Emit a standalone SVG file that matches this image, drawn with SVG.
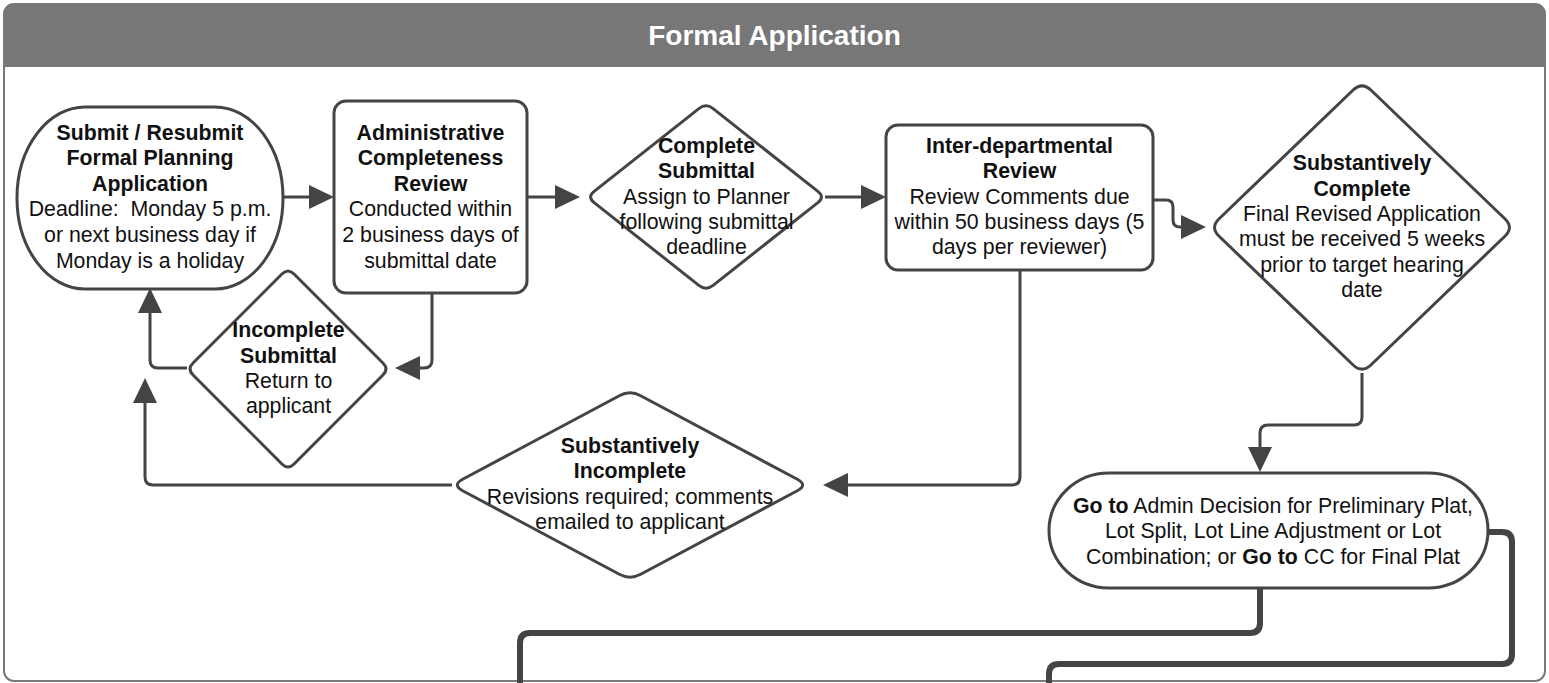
<svg xmlns="http://www.w3.org/2000/svg" width="1549" height="683" viewBox="0 0 1549 683">
<style>
  text { font-family: "Liberation Sans", Arial, sans-serif; font-size: 21.3px; fill: #111; text-anchor: middle; }
  .b { font-weight: bold; }
  .title { font-size: 28px; font-weight: bold; fill: #ffffff; }
  .node { fill: #ffffff; stroke: #444444; stroke-width: 3; }
  .conn { fill: none; stroke: #444444; stroke-width: 3; stroke-linejoin: round; }
  .thick { fill: none; stroke: #444444; stroke-width: 6; stroke-linejoin: round; }
</style>
<defs>
  <marker id="arr" viewBox="0 0 25 24" markerWidth="25" markerHeight="24" refX="0" refY="12" orient="auto" markerUnits="userSpaceOnUse">
    <path d="M0,0 L25,12 L0,24 Z" fill="#444444"/>
  </marker>
</defs>

<g id="container">
  <rect x="4" y="4" width="1541" height="677" rx="10" ry="10" fill="#ffffff" stroke="#7a7a7a" stroke-width="2"/>
  <path d="M4 67 V14 Q4 4 14 4 H1535 Q1545 4 1545 14 V67 Z" fill="#777777"/>
  <text class="title" x="774.5" y="45">Formal Application</text>
</g>

<g id="connectors">
  <path class="conn" d="M283 197 H309" marker-end="url(#arr)"/>
  <path class="conn" d="M527 197 H555" marker-end="url(#arr)"/>
  <path class="conn" d="M825 197 H861" marker-end="url(#arr)"/>
  <path class="conn" d="M1153 200 H1166 Q1173 200 1173 207 V220 Q1173 227 1180 227 H1181" marker-end="url(#arr)"/>
  <path class="conn" d="M432 293 V360 Q432 368 424 368 H420" marker-end="url(#arr)"/>
  <path class="conn" d="M187 368 H158 Q150 368 150 360 V313" marker-end="url(#arr)"/>
  <path class="conn" d="M1020 270 V477 Q1020 485 1012 485 H848" marker-end="url(#arr)"/>
  <path class="conn" d="M452 485 H153 Q145 485 145 477 V403" marker-end="url(#arr)"/>
  <path class="conn" d="M1362 373 V417 Q1362 425 1354 425 H1268 Q1260 425 1260 433 V447" marker-end="url(#arr)"/>
  <path class="thick" d="M1260 588 V623 Q1260 633 1250 633 H530 Q520 633 520 643 V690"/>
  <path class="thick" d="M1488 532 H1502 Q1512 532 1512 542 V654 Q1512 664 1502 664 H1059 Q1049 664 1049 674 V690"/>
</g>

<g id="submit">
  <rect class="node" x="17" y="107" width="266" height="182" rx="68" ry="91"/>
  <text class="b" x="150" y="139.5">Submit / Resubmit</text>
  <text class="b" x="150" y="165.1">Formal Planning</text>
  <text class="b" x="150" y="190.7">Application</text>
  <text x="150" y="216.3" xml:space="preserve">Deadline:  Monday 5 p.m.</text>
  <text x="150" y="241.9">or next business day if</text>
  <text x="150" y="267.5">Monday is a holiday</text>
</g>

<g id="admin-review">
  <rect class="node" x="334" y="101" width="193" height="192" rx="12" ry="12"/>
  <text class="b" x="430.5" y="139.5">Administrative</text>
  <text class="b" x="430.5" y="165.1">Completeness</text>
  <text class="b" x="430.5" y="190.7">Review</text>
  <text x="430.5" y="216.3">Conducted within</text>
  <text x="430.5" y="241.9">2 business days of</text>
  <text x="430.5" y="267.5">submittal date</text>
</g>

<g id="complete-submittal">
  <path class="node" d="M594.14 191.36 L698.86 108.64 Q706 103 713.14 108.64 L817.86 191.36 Q825 197 817.86 202.64 L713.14 285.36 Q706 291 698.86 285.36 L594.14 202.64 Q587 197 594.14 191.36 Z"/>
  <text class="b" x="706.5" y="152.7">Complete</text>
  <text class="b" x="706.5" y="178.1">Submittal</text>
  <text x="706.5" y="203.5">Assign to Planner</text>
  <text x="706.5" y="228.9">following submittal</text>
  <text x="706.5" y="254.3">deadline</text>
</g>

<g id="inter-departmental">
  <rect class="node" x="886" y="125" width="267" height="145" rx="12" ry="12"/>
  <text class="b" x="1019.5" y="152.7">Inter-departmental</text>
  <text class="b" x="1019.5" y="178.1">Review</text>
  <text x="1019.5" y="203.5">Review Comments due</text>
  <text x="1019.5" y="228.9">within 50 business days (5</text>
  <text x="1019.5" y="254.3">days per reviewer)</text>
</g>

<g id="substantively-complete">
  <path class="node" d="M1219.12 218.74 L1352.88 90.26 Q1362 81.5 1371.12 90.26 L1504.88 218.74 Q1514 227.5 1504.88 236.26 L1371.12 364.74 Q1362 373.5 1352.88 364.74 L1219.12 236.26 Q1210 227.5 1219.12 218.74 Z"/>
  <text class="b" x="1362" y="170.3">Substantively</text>
  <text class="b" x="1362" y="195.6">Complete</text>
  <text x="1362" y="220.9">Final Revised Application</text>
  <text x="1362" y="246.2">must be received 5 weeks</text>
  <text x="1362" y="271.5">prior to target hearing</text>
  <text x="1362" y="296.8">date</text>
</g>

<g id="incomplete-submittal">
  <path class="node" d="M193.06 362.94 L281.94 274.06 Q288 268 294.06 274.06 L382.94 362.94 Q389 369 382.94 375.06 L294.06 463.94 Q288 470 281.94 463.94 L193.06 375.06 Q187 369 193.06 362.94 Z"/>
  <text class="b" x="288.5" y="337.3">Incomplete</text>
  <text class="b" x="288.5" y="362.6">Submittal</text>
  <text x="288.5" y="387.9">Return to</text>
  <text x="288.5" y="413.2">applicant</text>
</g>

<g id="substantively-incomplete">
  <path class="node" d="M462.68 479.3 L619.32 395.7 Q630 390 640.68 395.7 L797.32 479.3 Q808 485 797.32 490.7 L640.68 574.3 Q630 580 619.32 574.3 L462.68 490.7 Q452 485 462.68 479.3 Z"/>
  <text class="b" x="630" y="452.7">Substantively</text>
  <text class="b" x="630" y="478.2">Incomplete</text>
  <text x="630" y="503.7">Revisions required; comments</text>
  <text x="630" y="529.2">emailed to applicant</text>
</g>

<g id="go-to">
  <rect class="node" x="1049" y="473" width="439" height="115" rx="60" ry="57.5"/>
  <text x="1273" y="512.7"><tspan class="b">Go to</tspan> Admin Decision for Preliminary Plat,</text>
  <text x="1273" y="538.3">Lot Split, Lot Line Adjustment or Lot</text>
  <text x="1273" y="564.3">Combination; or <tspan class="b">Go to</tspan> CC for Final Plat</text>
</g>
</svg>
